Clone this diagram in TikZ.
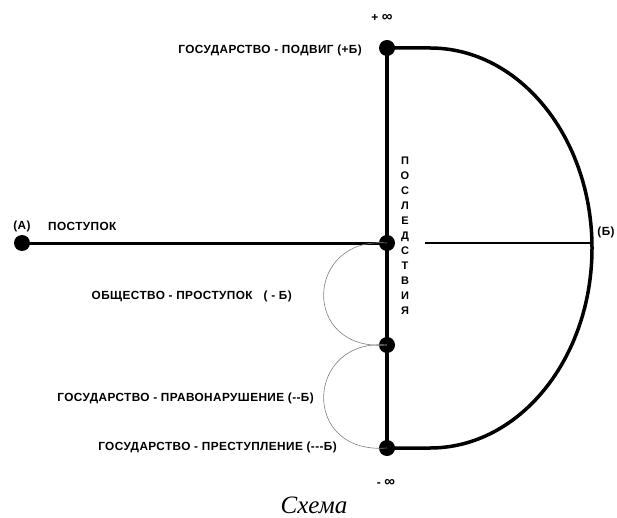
\documentclass[tikz,border=0pt]{standalone}
\usepackage{fontspec}
\setmainfont{Liberation Sans}
\newfontfamily\lblfont[LetterSpace=3.5]{Liberation Sans}
\newfontfamily\capfont{Liberation Serif}
\begin{document}
\begin{tikzpicture}[x=1pt,y=-1pt,
  dot/.style={circle,fill=black,inner sep=0pt,minimum size=16pt},
  lbl/.style={font=\lblfont\fontsize{11.8}{13}\selectfont\bfseries,inner sep=0pt},
  inf/.style={font=\fontsize{12}{13}\selectfont\bfseries,inner sep=0pt},
  thick line/.style={line width=3.5pt},
  thin arc/.style={line width=0.6pt,gray}]
\useasboundingbox (0,0) rectangle (617,518);
\node[dot] (top) at (387,48) {};
\node[dot] (mid) at (387,243) {};
\node[dot] (low) at (387,345) {};
\node[dot] (bot) at (387,448) {};
\node[dot] (A) at (22,243) {};
\coordinate (B) at (592,243);
\coordinate (inner) at (425,243);
\draw[thick line] (top.center) -- (bot.center);
\draw[line width=3pt] (A.center) -- (mid.center);
\draw[line width=2pt] (inner) -- (B);
\draw[thick line] (top.center) -- (430,48) arc[start angle=-90,end angle=90,x radius=162,y radius=200] -- (bot.center);
\draw[thin arc] (mid.center) .. controls (305,236) and (300,352) .. (low.center);
\draw[thin arc] (low.center) .. controls (305,338) and (300,455) .. (bot.center);
\node[inf] (pinf) at (382,18) {+ {\fontsize{15}{15}\selectfont ∞}};
\node[inf] (minf) at (386,483) {- {\fontsize{15}{15}\selectfont ∞}};
\node[lbl,anchor=east] (t1) at (362,50) {ГОСУДАРСТВО - ПОДВИГ (+Б)};
\node[lbl] (tA) at (22,226) {(А)};
\node[lbl,anchor=west] (tP) at (48,226) {ПОСТУПОК};
\node[lbl] (tB) at (606,232) {(Б)};
\node[lbl,anchor=east] (t2) at (292,296) {ОБЩЕСТВО - ПРОСТУПОК\ \ \ ( - Б)};
\node[lbl,anchor=east] (t3) at (314,398) {ГОСУДАРСТВО - ПРАВОНАРУШЕНИЕ ({-}{-}Б)};
\node[lbl,anchor=east] (t4) at (337,447) {ГОСУДАРСТВО - ПРЕСТУПЛЕНИЕ ({-}{-}{-}Б)};
\node[lbl,align=center,font=\lblfont\fontsize{11}{15}\selectfont\bfseries] (vt) at (405,236) {П\\О\\С\\Л\\Е\\Д\\С\\Т\\В\\И\\Я};
\node[font=\capfont\itshape\fontsize{25}{27}\selectfont,inner sep=0pt,anchor=base] (cap) at (314,513) {Схема};
\end{tikzpicture}
\end{document}
